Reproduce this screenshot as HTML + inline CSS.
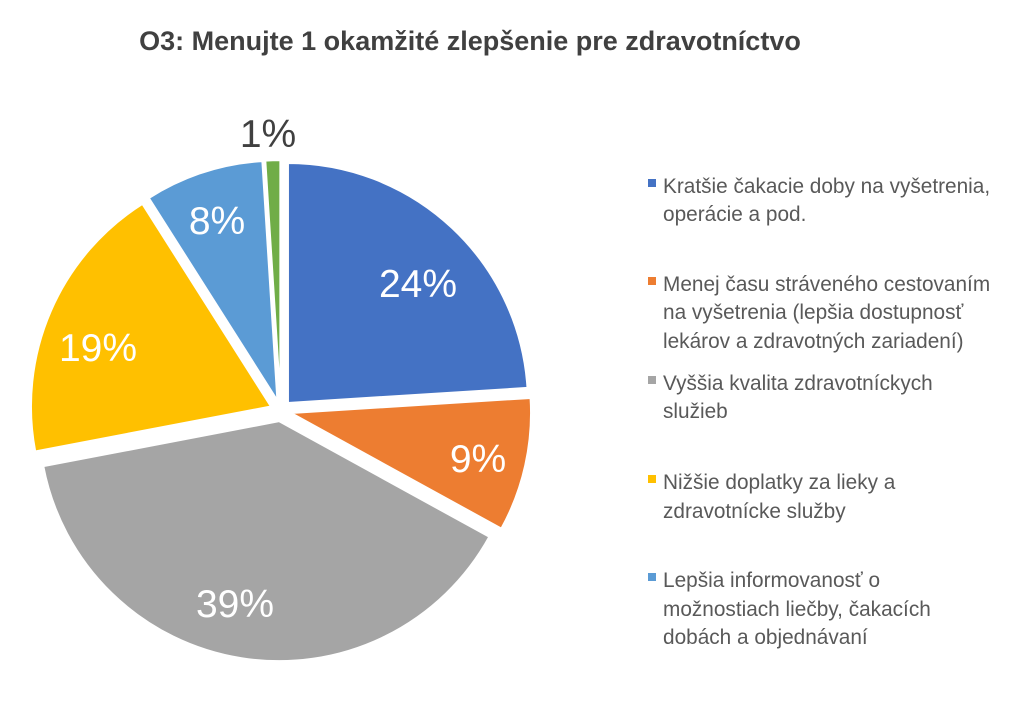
<!DOCTYPE html>
<html><head><meta charset="utf-8"><style>
body{margin:0;background:#fff;width:1010px;height:696px;overflow:hidden;font-family:"Liberation Sans",Arial,sans-serif}
</style></head><body>
<svg id="s" width="1010" height="696" xmlns="http://www.w3.org/2000/svg" font-family="Liberation Sans, Arial, sans-serif">
<text x="470" y="50" text-anchor="middle" font-size="27" font-weight="bold" fill="#404040">O3: Menujte 1 okamžité zlepšenie pre zdravotníctvo</text>
<g id="pie"></g>
<g font-size="20.8" fill="#595959">
<rect x="648" y="179" width="8" height="8" fill="#4472C4"/>
<text x="663" y="193">Kratšie čakacie doby na vyšetrenia,</text>
<text x="663" y="221">operácie a pod.</text>
<rect x="648" y="277" width="8" height="8" fill="#ED7D31"/>
<text x="663" y="291">Menej času stráveného cestovaním</text>
<text x="663" y="319">na vyšetrenia (lepšia dostupnosť</text>
<text x="663" y="348">lekárov a zdravotných zariadení)</text>
<rect x="648" y="376" width="8" height="8" fill="#A5A5A5"/>
<text x="663" y="390">Vyššia kvalita zdravotníckych</text>
<text x="663" y="418">služieb</text>
<rect x="648" y="475" width="8" height="8" fill="#FFC000"/>
<text x="663" y="489">Nižšie doplatky za lieky a</text>
<text x="663" y="518">zdravotnícke služby</text>
<rect x="648" y="573" width="8" height="8" fill="#5B9BD5"/>
<text x="663" y="587">Lepšia informovanosť o</text>
<text x="663" y="616">možnostiach liečby, čakacích</text>
<text x="663" y="644">dobách a objednávaní</text>
</g>
<g font-size="39" text-anchor="middle" fill="#fff">
<text x="418" y="297">24%</text>
<text x="478" y="472">9%</text>
<text x="235" y="617">39%</text>
<text x="98" y="361">19%</text>
<text x="217" y="234">8%</text>
<text x="268" y="147" fill="#404040">1%</text>
</g>
</svg>
<script>
var cx=280.7,cy=410.7,R=240,d=10.6;
var data=[[24,"#4472C4"],[9,"#ED7D31"],[39,"#A5A5A5"],[19,"#FFC000"],[8,"#5B9BD5"],[1,"#70AD47"]];
var g=document.getElementById("pie"),a=0,h="";
data.forEach(function(e,i){
 var a0=a/100*2*Math.PI,a1=(a+e[0])/100*2*Math.PI,m=(a0+a1)/2;a+=e[0];
 var ox=cx+d*Math.sin(m),oy=cy-d*Math.cos(m);
 var x0=ox+R*Math.sin(a0),y0=oy-R*Math.cos(a0),x1=ox+R*Math.sin(a1),y1=oy-R*Math.cos(a1);
 h+='<path d="M'+ox+','+oy+'L'+x0+','+y0+'A'+R+','+R+' 0 '+((a1-a0)>Math.PI?1:0)+' 1 '+x1+','+y1+'Z" fill="'+e[1]+'" stroke="#fff" stroke-width="2"/>';
});
g.innerHTML=h;
</script>
</body></html>
